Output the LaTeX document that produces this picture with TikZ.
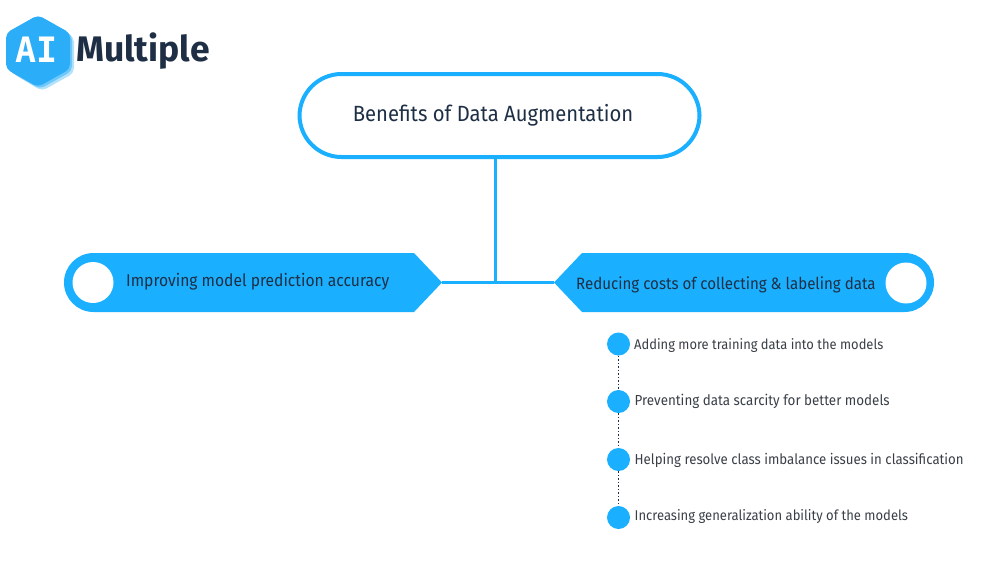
\documentclass[tikz,border=0pt]{standalone}
\usepackage{fontspec}
\setmainfont[FakeStretch=0.92]{Fira Sans}
\newfontfamily\logofont{Fira Sans}
\newfontfamily\markfont{DejaVu Sans Mono}
\usetikzlibrary{shapes.geometric}
\definecolor{sky}{HTML}{1AB0FF}
\definecolor{ink}{HTML}{1E2F45}
\definecolor{grayink}{HTML}{3A3F47}
\definecolor{hexa}{HTML}{2BADF8}
\definecolor{hexb}{HTML}{B4E2FC}
\definecolor{hexc}{HTML}{6FC8FA}
\tikzset{
  link/.style={draw=sky,line width=3pt},
  dotlink/.style={draw=ink,line width=1.6pt,dash pattern=on 1.6pt off 1.9pt},
  bullet/.style={circle,fill=sky,inner sep=0pt,minimum size=23pt},
  hole/.style={circle,fill=white,inner sep=0pt,minimum size=41pt},
  item/.style={anchor=west,text=grayink,inner sep=0pt},
  bannertext/.style={anchor=west,text=ink,inner sep=0pt},
  title/.style={draw=sky,line width=4pt,rounded corners=42pt,minimum width=400pt,minimum height=83pt,fill=white,
    text=ink,font=\fontsize{22}{25}\selectfont,inner sep=0pt},
  hexshape/.style={rounded corners=5pt}
}
\begin{document}
\begin{tikzpicture}[x=1pt,y=-1pt]
\useasboundingbox (0,0) rectangle (1000,582);
% logo
\fill[hexb,hexshape] (42,19) -- (74,37) -- (74,73) -- (42,91) -- (12,73) -- (12,37) -- cycle;
\fill[hexc,hexshape] (40,17) -- (72,35) -- (72,71) -- (40,89) -- (9,71) -- (9,35) -- cycle;
\fill[hexa,hexshape] (38,15) -- (70,33) -- (70,69) -- (38,87) -- (6,69) -- (6,33) -- cycle;
\node[anchor=center,text=white,inner sep=0pt,font=\fontsize{35}{38}\selectfont\markfont\bfseries] (ai) at (37,49.5) {AI};
\node[anchor=west,text=ink,inner sep=0pt,font=\fontsize{35.5}{42}\selectfont\logofont\bfseries] (multiple) at (76,51) {Multiple};
% banners
\fill[sky] (93.5,253) arc[start angle=270,end angle=90,radius=29.5] -- (414,312) -- (442,282.5) -- (414,253) -- cycle;
\fill[sky] (904.5,253) arc[start angle=-90,end angle=90,radius=29.5] -- (582,312) -- (554,282.5) -- (582,253) -- cycle;
\coordinate (ltip) at (442,282.5);
\coordinate (rtip) at (554,282.5);
\node[hole] (lhole) at (93,282.5) {};
\node[hole] (rhole) at (906,283) {};
\node[bannertext,font=\fontsize{17}{18}\selectfont] (ltext) at (126,282) {Improving model prediction accuracy};
\node[bannertext,font=\fontsize{16.4}{18}\selectfont] (rtext) at (576,284.5) {Reducing costs of collecting \& labeling data};
% title
\node[title] (top) at (499.5,115.5) {\hspace*{-13pt}Benefits of Data Augmentation};
\coordinate (stem) at (495,157);
\coordinate (junction) at (495,282.5);
\draw[link] (ltip) -- (rtip);
\draw[link] (stem) -- (junction);
% list
\node[bullet] (b1) at (618.5,344) {};
\node[bullet] (b2) at (618.5,401.5) {};
\node[bullet] (b3) at (618.5,459.5) {};
\node[bullet] (b4) at (618.5,517.5) {};
\draw[dotlink] (b1) -- (b2);
\draw[dotlink] (b2) -- (b3);
\draw[dotlink] (b3) -- (b4);
\node[item,font=\fontsize{14.05}{16}\selectfont] (t1) at (634,346) {Adding more training data into the models};
\node[item,font=\fontsize{14.55}{16}\selectfont] (t2) at (634.5,401.5) {Preventing data scarcity for better models};
\node[item,font=\fontsize{14.4}{16}\selectfont] (t3) at (634.5,460.5) {Helping resolve class imbalance issues in classification};
\node[item,font=\fontsize{14.16}{16}\selectfont] (t4) at (634.5,516) {Increasing generalization ability of the models};
\end{tikzpicture}
\end{document}
